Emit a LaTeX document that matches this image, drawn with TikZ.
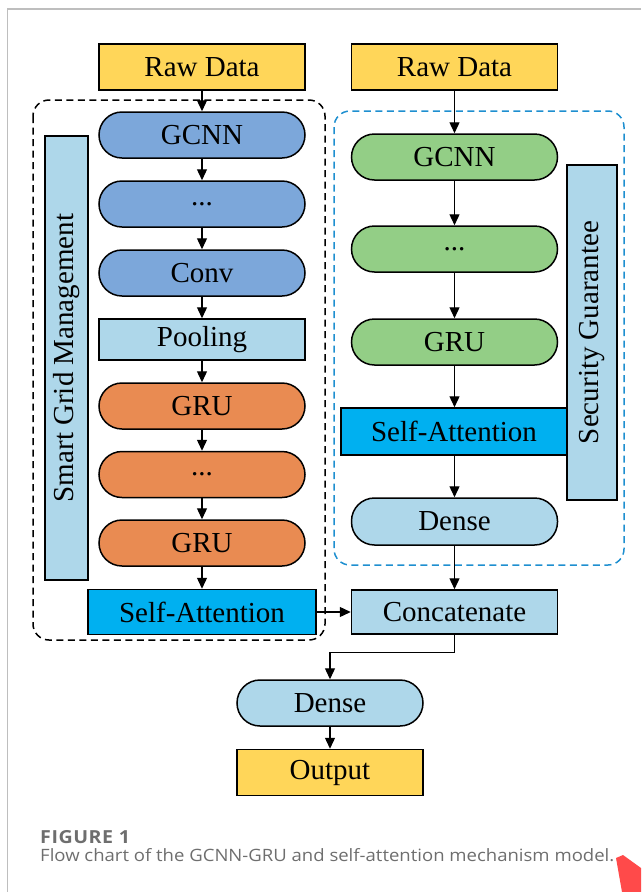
\documentclass[tikz,border=0pt]{standalone}
\usepackage{fontspec}
\setmainfont{Liberation Serif}
\newfontfamily\capfont{Open Sans}[FakeStretch=1.09]
\usetikzlibrary{arrows.meta}

\definecolor{rawyellow}{RGB}{255,214,89}
\definecolor{cnnblue}{RGB}{124,167,218}
\definecolor{lightbox}{RGB}{174,215,234}
\definecolor{gruorange}{RGB}{233,139,82}
\definecolor{grugreen}{RGB}{147,206,134}
\definecolor{attblue}{RGB}{0,176,240}
\definecolor{dashblue}{RGB}{30,143,208}
\definecolor{capgray}{RGB}{110,110,110}
\definecolor{framegray}{RGB}{190,190,190}
\definecolor{markred}{RGB}{255,74,74}

\tikzset{
  base/.style={draw=black, line width=1.5pt, inner sep=0pt, text=black,
               font=\fontsize{29}{32}\selectfont},
  pill/.style={base, rounded corners=23pt, minimum width=206pt, minimum height=46pt},
  plainbox/.style={base, minimum width=206pt, minimum height=46pt},
  sidebar/.style={base, fill=lightbox, rotate=90},
  flow/.style={draw=black, line width=1.3pt, -{Triangle[length=11pt,width=10pt]}},
  group/.style={line width=1.5pt, dash pattern=on 7pt off 4.5pt, rounded corners=16pt},
  caption/.style={anchor=base west, inner sep=0pt, text=capgray}
}

\begin{document}
\begin{tikzpicture}[x=1pt,y=-1pt]
\useasboundingbox (0,0) rectangle (641,892);

% page frame
\draw[framegray, line width=1.3pt] (641,9) -- (7.5,9) -- (7.5,892);

% group outlines
\draw[group, black] (33,100) rectangle (325,640);
\draw[group, dashblue] (334,111) rectangle (624,565);

% left branch
\node[plainbox, fill=rawyellow] (rawL) at (202,67) {Raw Data};
\node[pill, fill=cnnblue] (gcnnL) at (202,135) {GCNN};
\node[pill, fill=cnnblue] (dotL1) at (202,204) {...};
\node[pill, fill=cnnblue] (convL) at (202,273) {Conv};
\node[plainbox, fill=lightbox, minimum height=41pt] (poolL) at (202,339.5) {Pooling};
\node[pill, fill=gruorange] (gruL1) at (202,406) {GRU};
\node[pill, fill=gruorange] (dotL2) at (202,474.5) {...};
\node[pill, fill=gruorange] (gruL2) at (202,543) {GRU};
\node[plainbox, fill=attblue, minimum width=228pt, minimum height=45pt] (attL) at (202,612) {Self-Attention};
\node[sidebar, minimum width=444pt, minimum height=43pt] (smart) at (66.5,358) {Smart Grid Management};

% right branch
\node[plainbox, fill=rawyellow] (rawR) at (454.5,67) {Raw Data};
\node[pill, fill=grugreen] (gcnnR) at (454.5,157) {GCNN};
\node[pill, fill=grugreen] (dotR) at (454.5,249) {...};
\node[pill, fill=grugreen] (gruR) at (454.5,342) {GRU};
\node[plainbox, fill=attblue, minimum width=226pt, minimum height=47pt] (attR) at (454,431.5) {Self-Attention};
\node[pill, fill=lightbox, minimum height=47pt] (denseR) at (454.5,521.5) {Dense};
\node[sidebar, minimum width=335pt, minimum height=50pt] (secure) at (592,332.5) {Security Guarantee};

% merge and output
\node[plainbox, fill=lightbox, minimum height=44pt] (concat) at (454.5,612) {Concatenate};
\node[pill, fill=lightbox, minimum width=186pt] (denseB) at (330,703) {Dense};
\node[plainbox, fill=rawyellow, minimum width=186pt] (output) at (330,772.5) {Output};

% connectors
\draw[flow] (rawL) -- (gcnnL);
\draw[flow] (gcnnL) -- (dotL1);
\draw[flow] (dotL1) -- (convL);
\draw[flow] (convL) -- (poolL);
\draw[flow] (poolL) -- (gruL1);
\draw[flow] (gruL1) -- (dotL2);
\draw[flow] (dotL2) -- (gruL2);
\draw[flow] (gruL2) -- (attL);
\draw[flow] (attL) -- (concat);

\draw[flow] (rawR) -- (gcnnR);
\draw[flow] (gcnnR) -- (dotR);
\draw[flow] (dotR) -- (gruR);
\draw[flow] (gruR.south) -- (gruR.south |- attR.north);
\draw[flow] (gruR.south |- attR.south) -- (denseR.north);
\draw[flow] (denseR) -- (concat);

\draw[flow] (concat.south) -- ++(0,18) -| (denseB.north);
\draw[flow] (denseB) -- (output);

% caption
\node[caption, font=\capfont\bfseries\fontsize{18}{21}\selectfont\addfontfeature{LetterSpace=3}] (figlab) at (40,843) {FIGURE 1};
\node[caption, font=\capfont\fontsize{17}{20}\selectfont] (captext) at (40,861.5) {Flow chart of the GCNN-GRU and self-attention mechanism model.};

% red marker in the corner
\fill[markred] (616,858) -- (623,855) -- (641,868) -- (641,892) -- (622,892) -- cycle;
\end{tikzpicture}
\end{document}
